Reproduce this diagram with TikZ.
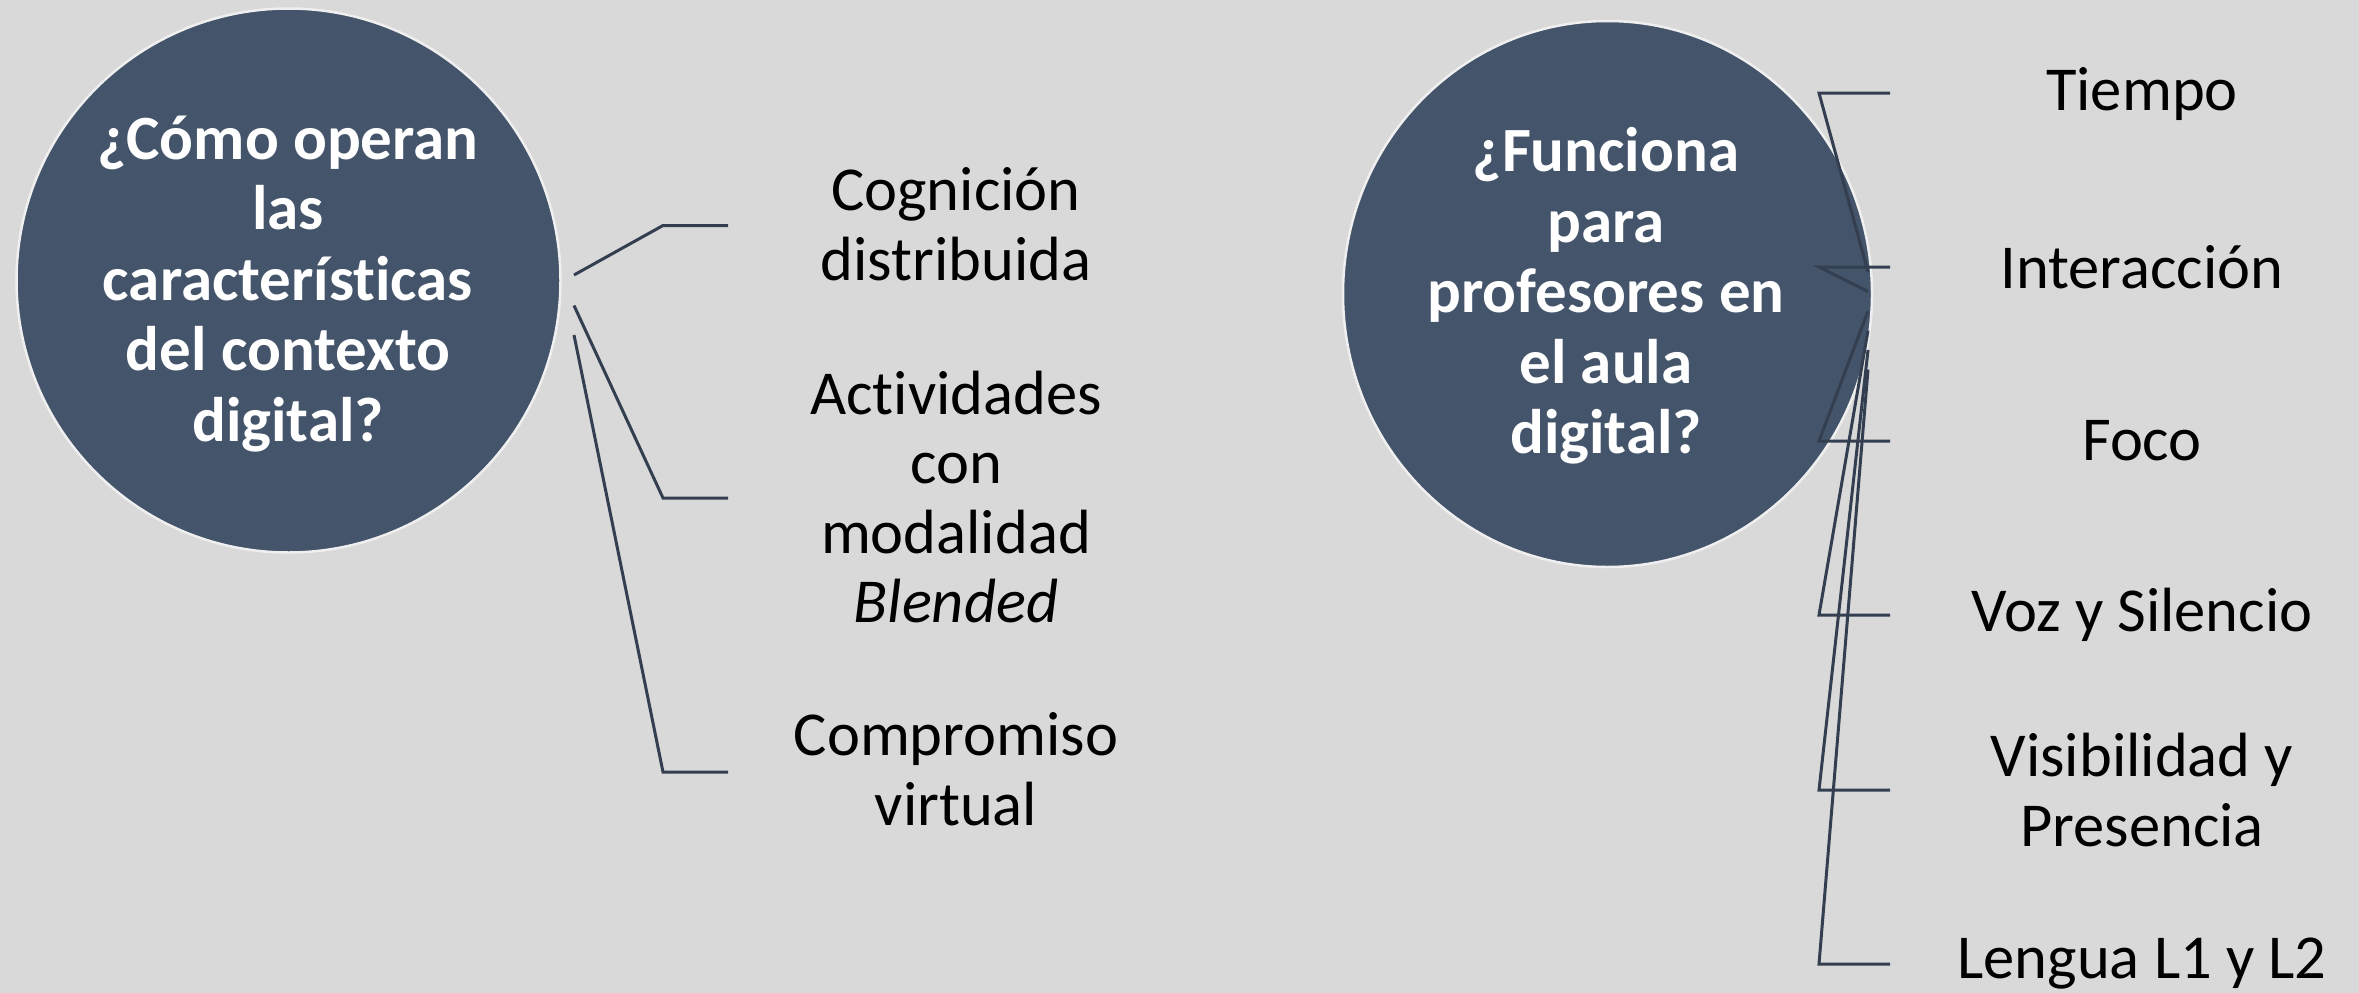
\documentclass[tikz,border=0pt]{standalone}
\usepackage{fontspec}
\setmainfont{Carlito}[Ligatures=NoCommon]
\usetikzlibrary{shapes.geometric,calc}
\definecolor{bg}{HTML}{D9D9D9}
\definecolor{qfill}{HTML}{44546A}
\definecolor{linkc}{HTML}{333F50}
\definecolor{rim}{HTML}{EFEFEF}
\begin{document}
\begin{tikzpicture}[x=1pt,y=-1pt,
  qshape/.style={fill=qfill,draw=rim,line width=2.5pt,inner sep=0pt},
  qtext/.style={text=white,align=center,inner sep=0pt,font=\fontsize{63}{70.5}\selectfont\bfseries},
  item/.style={text=black,align=center,inner sep=0pt,font=\fontsize{62.5}{69.5}\selectfont},
  linkline/.style={draw=linkc,line width=3pt}]
\fill[bg] (0,0) rectangle (2359,993);
\useasboundingbox (0,0) rectangle (2359,993);

% question shapes
\node[qshape,circle,minimum size=544pt] (c1) at (288.5,280.5) {};
\node[qshape,ellipse,minimum width=529pt,minimum height=546pt] (c2) at (1607.5,294) {};
\node[qtext] (t1) at (288,284) {¿Cómo operan\\las\\características\\del contexto\\digital?};
\node[qtext] (t2) at (1606,296) {¿Funciona\\para\\profesores en\\el aula\\digital?};

% left items
\node[item] (a1) at (956,224) {Cognición\\distribuida};
\node[item] (a2) at (956,497) {Actividades\\con\\modalidad\\\textit{Blended}};
\node[item] (a3) at (956,769) {Compromiso\\virtual};

% right items
\node[item] (b1) at (2142,94) {Tiempo};
\node[item] (b2) at (2142,267) {Interacción};
\node[item] (b3) at (2142,441) {Foco};
\node[item] (b4) at (2142,615) {Voz y Silencio};
\node[item] (b5) at (2142,790) {Visibilidad y\\Presencia};
\node[item] (b6) at (2142,964) {Lengua L1 y L2};

% left connector points
\coordinate (s1) at (574,275);
\coordinate (s2) at (574,305.5);
\coordinate (s3) at (574,335);
\coordinate (e1) at (663,225.5);
\coordinate (e2) at (663,498);
\coordinate (e3) at (663,772);
\coordinate (f1) at (728,225.5);
\coordinate (f2) at (728,498);
\coordinate (f3) at (728,772);
\draw[linkline] (s1) -- (e1) -- (f1);
\draw[linkline] (s2) -- (e2) -- (f2);
\draw[linkline] (s3) -- (e3) -- (f3);

% right connector points
\coordinate (r1) at (1868,272);
\coordinate (r2) at (1868,291.5);
\coordinate (r3) at (1868,311);
\coordinate (r4) at (1868,330.5);
\coordinate (r5) at (1868,350);
\coordinate (r6) at (1868,369.5);
\coordinate (g1) at (1819,93);
\coordinate (g2) at (1819,267);
\coordinate (g3) at (1819,441);
\coordinate (g4) at (1819,615);
\coordinate (g5) at (1819,790);
\coordinate (g6) at (1819,964);
\coordinate (h1) at (1890,93);
\coordinate (h2) at (1890,267);
\coordinate (h3) at (1890,441);
\coordinate (h4) at (1890,615);
\coordinate (h5) at (1890,790);
\coordinate (h6) at (1890,964);
\foreach \i in {1,...,6} {
  \draw[linkline] (r\i) -- (g\i) -- (h\i);
}
\end{tikzpicture}
\end{document}
